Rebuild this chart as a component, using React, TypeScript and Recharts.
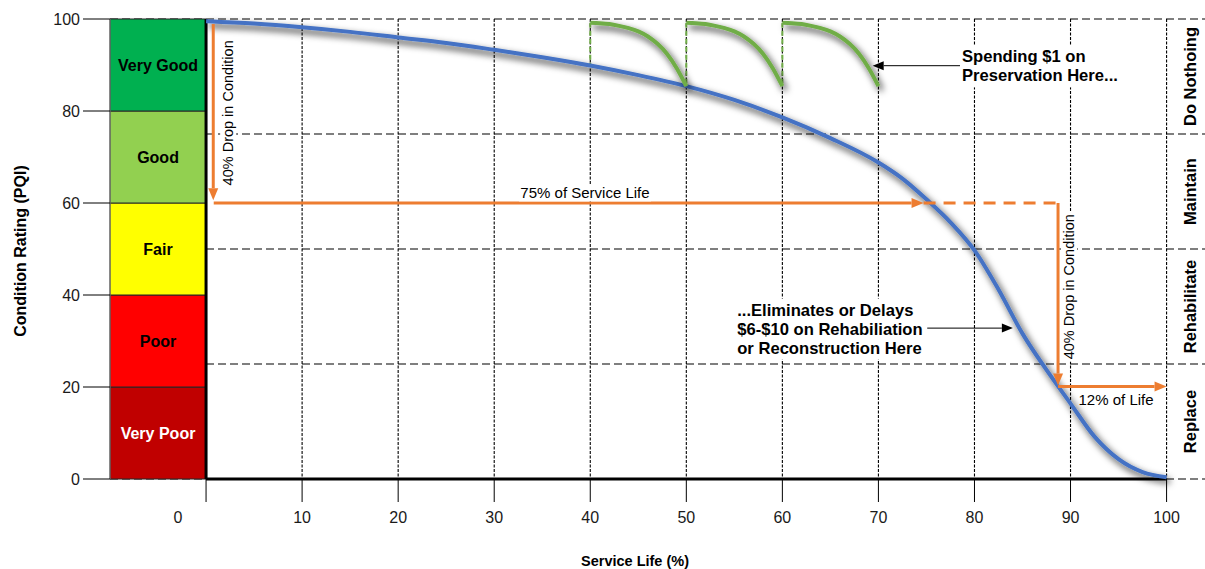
import React from 'react';
import {
  LineChart,
  Line,
  XAxis,
  YAxis,
  CartesianGrid,
  ReferenceArea,
  ReferenceLine,
  ReferenceDot,
} from 'recharts';

const FONT = "Arial, 'Liberation Sans', Helvetica, sans-serif";

// ---------- data ----------
const lifeTicks = [0, 10, 20, 30, 40, 50, 60, 70, 80, 90, 100];
const pqiTicks = [0, 20, 40, 60, 80, 100];
const gridLifeValues = [10, 20, 30, 40, 50, 60, 70, 80, 90, 100];
const gridPqiValues = [0, 25, 50, 75, 100];

const conditionLabels = ['Very Poor', 'Poor', 'Fair', 'Good', 'Very Good'];
const conditionEdges = [0, 20, 40, 60, 80, 100];

const treatmentLabels = ['Replace', 'Rehabilitate', 'Maintain', 'Do Nothoing'];
const treatmentEdges = [0, 25, 50, 75, 100];

const deterioration = [
  { life: 0, pqi: 99.5 },
  { life: 5, pqi: 99.0 },
  { life: 10, pqi: 98.2 },
  { life: 15, pqi: 97.2 },
  { life: 20, pqi: 96.0 },
  { life: 25, pqi: 94.8 },
  { life: 30, pqi: 93.3 },
  { life: 35, pqi: 91.7 },
  { life: 40, pqi: 89.9 },
  { life: 45, pqi: 87.8 },
  { life: 50, pqi: 85.4 },
  { life: 55, pqi: 82.4 },
  { life: 60, pqi: 78.6 },
  { life: 65, pqi: 74.1 },
  { life: 70, pqi: 68.8 },
  { life: 72.5, pqi: 65.3 },
  { life: 75, pqi: 60.8 },
  { life: 77.5, pqi: 55.8 },
  { life: 80, pqi: 49.7 },
  { life: 82.5, pqi: 41.2 },
  { life: 85, pqi: 31.6 },
  { life: 87.5, pqi: 23.7 },
  { life: 90, pqi: 16.4 },
  { life: 92.5, pqi: 9.2 },
  { life: 95, pqi: 4.3 },
  { life: 97.5, pqi: 1.5 },
  { life: 100, pqi: 0.4 },
];

const preservation1 = [
  { life: 40, pqi: 99.2 },
  { life: 41, pqi: 99.1 },
  { life: 42, pqi: 98.9 },
  { life: 43, pqi: 98.5 },
  { life: 44, pqi: 98.0 },
  { life: 45, pqi: 97.3 },
  { life: 46, pqi: 96.2 },
  { life: 47, pqi: 94.6 },
  { life: 48, pqi: 92.4 },
  { life: 49, pqi: 89.3 },
  { life: 50, pqi: 85.4 },
];
const preservation2 = [
  { life: 50, pqi: 99.2 },
  { life: 51, pqi: 99.1 },
  { life: 52, pqi: 98.9 },
  { life: 53, pqi: 98.5 },
  { life: 54, pqi: 98.0 },
  { life: 55, pqi: 97.3 },
  { life: 56, pqi: 96.2 },
  { life: 57, pqi: 94.6 },
  { life: 58, pqi: 92.4 },
  { life: 59, pqi: 89.3 },
  { life: 60, pqi: 85.4 },
];
const preservation3 = [
  { life: 60, pqi: 99.2 },
  { life: 61, pqi: 99.1 },
  { life: 62, pqi: 98.9 },
  { life: 63, pqi: 98.5 },
  { life: 64, pqi: 98.0 },
  { life: 65, pqi: 97.3 },
  { life: 66, pqi: 96.2 },
  { life: 67, pqi: 94.6 },
  { life: 68, pqi: 92.4 },
  { life: 69, pqi: 89.3 },
  { life: 70, pqi: 85.4 },
];
const preservationStart1 = [
  { life: 40, pqi: 99.2 },
  { life: 40, pqi: 89.9 },
];
const preservationStart2 = [
  { life: 50, pqi: 99.2 },
  { life: 50, pqi: 85.4 },
];
const preservationStart3 = [
  { life: 60, pqi: 99.2 },
  { life: 60, pqi: 85.4 },
];

// annotation arrows (data space)
const orangeArrows = [
  [{ x: 0.75, y: 98.9 }, { x: 0.75, y: 60.6 }],
  [{ x: 0.8, y: 60 }, { x: 74.7, y: 60 }],
  [{ x: 88.7, y: 60 }, { x: 88.7, y: 20.3 }],
  [{ x: 88.7, y: 20.1 }, { x: 100, y: 20.1 }],
];
const orangeDashed = [{ x: 74.7, y: 60 }, { x: 88.7, y: 60 }];
const blackArrows = [
  [{ x: 78.5, y: 89.85 }, { x: 69.4, y: 89.85 }],
  [{ x: 74.85, y: 32.8 }, { x: 84.0, y: 32.8 }],
];

const dropText = '40% Drop in Condition';
const serviceText = '75% of Service Life';
const lifeText = '12% of Life';
const spendingLines = ['Spending $1 on', 'Preservation Here...'];
const eliminatesLines = ['...Eliminates or Delays', '$6-$10 on Rehabiliation', 'or Reconstruction Here'];

// ---------- styles ----------
const BAND_FILLS = ['#C00000', '#FF0000', '#FFFF00', '#92D050', '#00B050'];
const BAND_TEXT = ['#FFFFFF', '#000000', '#000000', '#000000', '#000000'];
const BLUE = '#4472C4';
const GREEN = '#70AD47';
const ORANGE = '#ED7D31';
const SHADOW = 'url(#lineShadow)';

function makeArrow(color: string, width: number, headLen: number, headW: number) {
  return (props: any) => {
    const { x1, y1, x2, y2 } = props;
    const dx = x2 - x1;
    const dy = y2 - y1;
    const len = Math.hypot(dx, dy) || 1;
    const ux = dx / len;
    const uy = dy / len;
    const bx = x2 - ux * headLen;
    const by = y2 - uy * headLen;
    const px = -uy * (headW / 2);
    const py = ux * (headW / 2);
    return (
      <g>
        <line x1={x1} y1={y1} x2={bx} y2={by} stroke={color} strokeWidth={width} />
        <polygon points={`${x2},${y2} ${bx + px},${by + py} ${bx - px},${by - py}`} fill={color} />
      </g>
    );
  };
}

const orangeArrowShape = makeArrow(ORANGE, 3, 12, 10);
const blackArrowShape = makeArrow('#000', 1, 11, 9);

function LifeTick(props: any) {
  const { x, y, payload } = props;
  const shift = payload.value === 0 ? -28 : 0;
  return (
    <text x={x + shift} y={y + 19} textAnchor="middle" fontSize={16} fill="#1a1a1a" fontFamily={FONT}>
      {payload.value}
    </text>
  );
}

function XTitle(props: any) {
  const vb = props.viewBox || { x: 110, y: 479 };
  return (
    <text x={vb.x + 525} y={vb.y + 87} textAnchor="middle" fontSize={14.5} fontWeight="bold" fill="#000" fontFamily={FONT}>
      Service Life (%)
    </text>
  );
}

function YTitle(props: any) {
  const vb = props.viewBox || { y: 19, height: 460 };
  const cy = vb.y + vb.height / 2 + 2;
  return (
    <text
      x={20}
      y={cy}
      transform={`rotate(-90 20 ${cy})`}
      textAnchor="middle"
      dominantBaseline="central"
      fontSize={16}
      fontWeight="bold"
      fill="#000"
      fontFamily={FONT}
    >
      Condition Rating (PQI)
    </text>
  );
}

function rotatedText(text: string, size: number, bold: boolean, bgW: number, bgH: number) {
  return (props: any) => {
    const { cx, cy } = props;
    return (
      <g transform={`rotate(-90 ${cx} ${cy})`}>
        {bgW > 0 && <rect x={cx - bgW / 2} y={cy - bgH / 2} width={bgW} height={bgH} fill="#fff" />}
        <text
          x={cx}
          y={cy}
          textAnchor="middle"
          dominantBaseline="central"
          fontSize={size}
          fontWeight={bold ? 'bold' : 'normal'}
          fill="#000"
          fontFamily={FONT}
        >
          {text}
        </text>
      </g>
    );
  };
}

function plainText(text: string, size: number, bgW: number, bgH: number) {
  return (props: any) => {
    const { cx, cy } = props;
    return (
      <g>
        {bgW > 0 && <rect x={cx - bgW / 2} y={cy - bgH / 2} width={bgW} height={bgH} fill="#fff" />}
        <text x={cx} y={cy} textAnchor="middle" dominantBaseline="central" fontSize={size} fill="#000" fontFamily={FONT}>
          {text}
        </text>
      </g>
    );
  };
}

function multiLineText(lines: string[], size: number, lineH: number, bgW: number) {
  return (props: any) => {
    const { cx, cy } = props;
    const top = cy - ((lines.length - 1) * lineH) / 2;
    return (
      <g>
        <rect x={cx - 2} y={top - lineH / 2 - 2} width={bgW} height={lines.length * lineH + 4} fill="#fff" />
        {lines.map((l, i) => (
          <text
            key={l}
            x={cx}
            y={top + i * lineH}
            textAnchor="start"
            dominantBaseline="central"
            fontSize={size}
            fontWeight="bold"
            fill="#000"
            fontFamily={FONT}
          >
            {l}
          </text>
        ))}
      </g>
    );
  };
}

export default function App() {
  return (
    <div style={{ position: 'absolute', left: 0, top: 0, width: 1205, height: 569, background: '#fff' }}>
      <LineChart width={1205} height={569} margin={{ top: 19, right: 0, bottom: 30, left: 0 }}>
        <defs>
          <filter id="lineShadow" x="-20%" y="-20%" width="140%" height="140%">
            <feGaussianBlur in="SourceAlpha" stdDeviation={3.5} result="blur" />
            <feOffset in="blur" dx={3} dy={4} result="ob" />
            <feColorMatrix in="ob" type="matrix" values="0 0 0 0 0  0 0 0 0 0  0 0 0 0 0  0 0 0 0.85 0" result="shadow" />
            <feMerge>
              <feMergeNode in="shadow" />
              <feMergeNode in="SourceGraphic" />
            </feMerge>
          </filter>
        </defs>
        <XAxis
          type="number"
          dataKey="life"
          domain={[-10, 104]}
          ticks={lifeTicks}
          interval={0}
          axisLine={false}
          tickLine={{ stroke: '#000', strokeWidth: 1 }}
          tickSize={23}
          tickMargin={2}
          tick={<LifeTick />}
          height={60}
          label={{ content: XTitle }}
        />
        <YAxis
          type="number"
          dataKey="pqi"
          domain={[0, 100]}
          ticks={pqiTicks}
          interval={0}
          width={110}
          tickSize={27}
          tickMargin={3}
          tickLine={{ stroke: '#000', strokeWidth: 1 }}
          axisLine={{ stroke: '#7f7f7f' }}
          tick={{ fontSize: 16, fill: '#1a1a1a', fontFamily: FONT }}
          label={{ content: YTitle }}
        />
        <CartesianGrid vertical={false} horizontalValues={gridPqiValues} stroke="#000" strokeDasharray="8 4" strokeWidth={1.2} />
        <CartesianGrid horizontal={false} verticalValues={gridLifeValues} stroke="#000" strokeDasharray="3 1.5" strokeWidth={1.1} />

        {conditionLabels.map((name, i) => (
          <ReferenceArea
            key={name}
            x1={-10}
            x2={0}
            y1={conditionEdges[i]}
            y2={conditionEdges[i + 1]}
            fill={BAND_FILLS[i]}
            fillOpacity={1}
            stroke="#262626"
            strokeWidth={1}
            ifOverflow="visible"
            label={{
              value: name,
              position: 'center',
              fill: BAND_TEXT[i],
              fontSize: 16,
              fontWeight: 'bold',
              fontFamily: FONT,
            }}
          />
        ))}

        <ReferenceLine segment={[{ x: 0, y: 0 }, { x: 100, y: 0 }]} stroke="#000" strokeWidth={3} ifOverflow="visible" />
        <ReferenceLine segment={[{ x: 0, y: 0 }, { x: 0, y: 100 }]} stroke="#000" strokeWidth={3} ifOverflow="visible" />

        <Line
          data={preservationStart1}
          dataKey="pqi"
          type="linear"
          stroke={GREEN}
          strokeWidth={2}
          strokeDasharray="5 3"
          dot={false}
          activeDot={false}
          isAnimationActive={false}
        />
        <Line
          data={preservationStart2}
          dataKey="pqi"
          type="linear"
          stroke={GREEN}
          strokeWidth={2}
          strokeDasharray="5 3"
          dot={false}
          activeDot={false}
          isAnimationActive={false}
        />
        <Line
          data={preservationStart3}
          dataKey="pqi"
          type="linear"
          stroke={GREEN}
          strokeWidth={2}
          strokeDasharray="5 3"
          dot={false}
          activeDot={false}
          isAnimationActive={false}
        />
        <Line
          data={deterioration}
          dataKey="pqi"
          type="monotone"
          stroke={BLUE}
          strokeWidth={4}
          dot={false}
          activeDot={false}
          filter={SHADOW}
          isAnimationActive={false}
        />
        <Line
          data={preservation1}
          dataKey="pqi"
          type="monotone"
          stroke={GREEN}
          strokeWidth={4}
          dot={false}
          activeDot={false}
          filter={SHADOW}
          isAnimationActive={false}
        />
        <Line
          data={preservation2}
          dataKey="pqi"
          type="monotone"
          stroke={GREEN}
          strokeWidth={4}
          dot={false}
          activeDot={false}
          filter={SHADOW}
          isAnimationActive={false}
        />
        <Line
          data={preservation3}
          dataKey="pqi"
          type="monotone"
          stroke={GREEN}
          strokeWidth={4}
          dot={false}
          activeDot={false}
          filter={SHADOW}
          isAnimationActive={false}
        />

        {/* text annotations */}
        <ReferenceDot x={2.3} y={79.6} r={0} ifOverflow="visible" shape={rotatedText(dropText, 14.5, false, 150, 16)} />
        <ReferenceDot x={89.84} y={41.8} r={0} ifOverflow="visible" shape={rotatedText(dropText, 14.5, false, 150, 16)} />
        <ReferenceDot x={39.45} y={62.2} r={0} ifOverflow="visible" shape={plainText(serviceText, 15, 132, 17)} />
        <ReferenceDot x={94.74} y={17.2} r={0} ifOverflow="visible" shape={plainText(lifeText, 15, 0, 0)} />
        <ReferenceDot x={78.7} y={89.7} r={0} ifOverflow="visible" shape={multiLineText(spendingLines, 16.6, 19, 164)} />
        <ReferenceDot x={55.3} y={32.6} r={0} ifOverflow="visible" shape={multiLineText(eliminatesLines, 16.6, 19, 192)} />

        {treatmentLabels.map((name, i) => (
          <ReferenceDot
            key={name}
            x={102.44}
            y={(treatmentEdges[i] + treatmentEdges[i + 1]) / 2}
            r={0}
            ifOverflow="visible"
            shape={rotatedText(name, 16.5, true, 0, 0)}
          />
        ))}

        {/* arrows */}
        <ReferenceLine segment={orangeDashed} stroke={ORANGE} strokeWidth={3} strokeDasharray="12 8" ifOverflow="visible" />
        {orangeArrows.map((seg, i) => (
          <ReferenceLine key={`o${i}`} segment={seg} ifOverflow="visible" shape={orangeArrowShape} />
        ))}
        {blackArrows.map((seg, i) => (
          <ReferenceLine key={`b${i}`} segment={seg} ifOverflow="visible" shape={blackArrowShape} />
        ))}
      </LineChart>
    </div>
  );
}
